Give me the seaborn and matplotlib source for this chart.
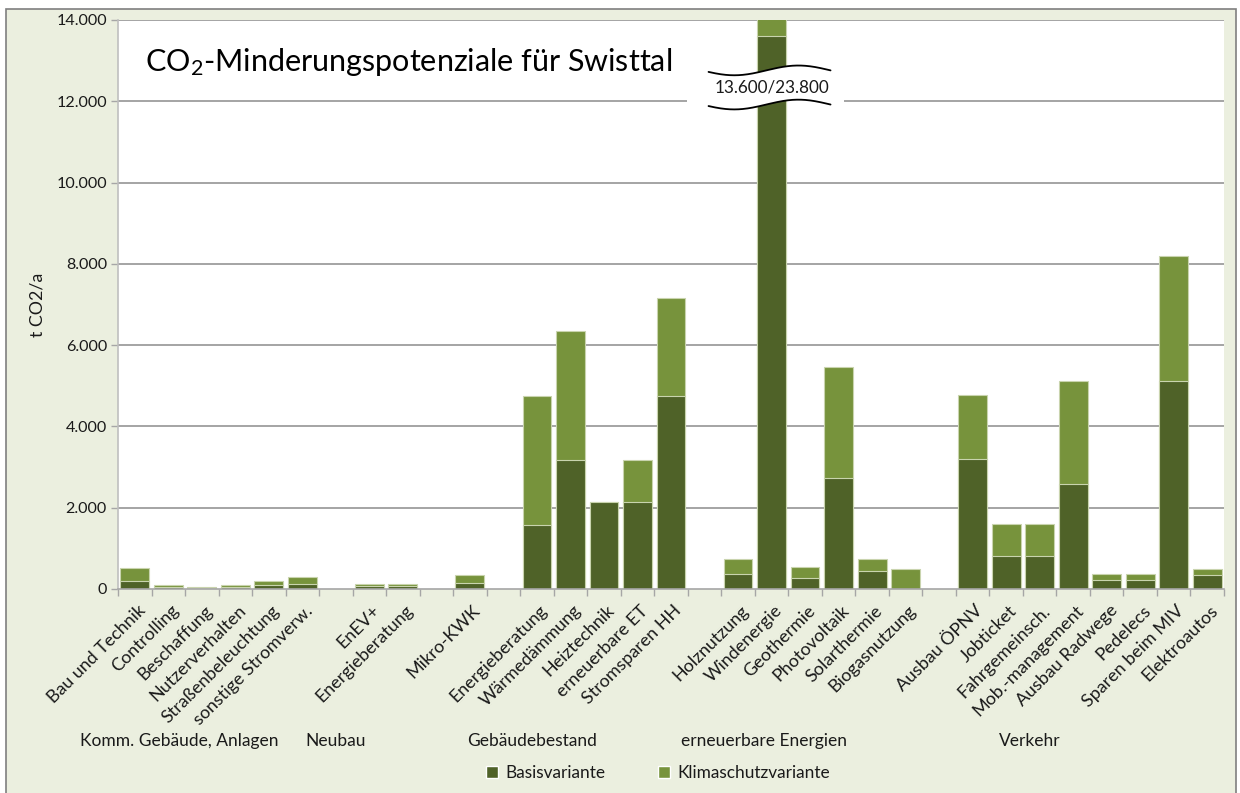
import numpy as np
import pandas as pd
import matplotlib
matplotlib.use("Agg")
import matplotlib.pyplot as plt
import matplotlib.transforms as mtransforms
from matplotlib.patches import Rectangle, Patch, Polygon
import seaborn as sns

# ---- data ---------------------------------------------------------------
measures = [
    "Bau und Technik", "Controlling", "Beschaffung", "Nutzerverhalten",
    "Straßenbeleuchtung", "sonstige Stromverw.", None,
    "EnEV+", "Energieberatung", None,
    "Mikro-KWK", None,
    "Energieberatung", "Wärmedämmung", "Heiztechnik", "erneuerbare ET",
    "Stromsparen HH", None,
    "Holznutzung", "Windenergie", "Geothermie", "Photovoltaik",
    "Solarthermie", "Biogasnutzung", None,
    "Ausbau ÖPNV", "Jobticket", "Fahrgemeinsch.", "Mob.-management",
    "Ausbau Radwege", "Pedelecs", "Sparen beim MIV", "Elektroautos",
]
basis = [
    200, 50, 30, 60, 100, 130, None,
    80, 80, None,
    155, None,
    1580, 3180, 2130, 2130, 4760, None,
    370, 13600, 270, 2730, 450, 0, None,
    3200, 800, 800, 2580, 230, 230, 5130, 340,
]
klimaschutz = [
    510, 100, 40, 90, 200, 290, None,
    115, 115, None,
    335, None,
    4760, 6350, 2130, 3180, 7150, None,
    740, 23800, 530, 5470, 740, 490, None,
    4780, 1600, 1600, 5130, 370, 370, 8200, 490,
]
groups = ["Komm. Gebäude, Anlagen", "Neubau", "Gebäudebestand",
          "erneuerbare Energien", "Verkehr"]
group_x = [1.32, 5.98, 11.86, 18.78, 26.7]
y_max = 14000
y_ticks = [0, 2000, 4000, 6000, 8000, 10000, 12000, 14000]
break_label = "13.600/23.800"

# ---- style --------------------------------------------------------------
sns.set_theme(style="white")
plt.rcParams["font.family"] = ["Lato", "DejaVu Sans"]
plt.rcParams["mathtext.fontset"] = "custom"
plt.rcParams["mathtext.rm"] = "Lato"
plt.rcParams["mathtext.it"] = "Lato:italic"

dark = "#4F6228"
light = "#77933C"
panel = "#EBEFDF"
grid = "#8C8C8C"
txt = "#1A1A1A"

fig = plt.figure(figsize=(12.4, 7.93), dpi=100, facecolor="white")
fig.patches.append(Rectangle((6 / 1240, -0.01), 1230 / 1240, 1 - 9 / 793 + 0.01,
                             transform=fig.transFigure, facecolor=panel,
                             edgecolor="#7F7F7F", linewidth=1.2, zorder=-5))
ax = fig.add_axes([118 / 1240, 1 - 589 / 793, 1106 / 1240, 569 / 793])
ax.set_facecolor("white")

pos = [i for i, m in enumerate(measures) if m is not None]
df = pd.DataFrame({
    "pos": pos,
    "basis": [basis[i] for i in pos],
    "klima": [klimaschutz[i] for i in pos],
})

common = dict(native_scale=True, width=0.86, linewidth=0.8, zorder=3, ax=ax)
sns.barplot(data=df, x="pos", y="klima", color=light, saturation=1,
            edgecolor="#C9D4AE", **common)
sns.barplot(data=df, x="pos", y="basis", color=dark, saturation=1,
            edgecolor="#C9D4AE", **common)

ax.set_xlim(-0.5, len(measures) - 0.5)
ax.set_ylim(0, y_max)

# y axis
ax.set_yticks(y_ticks)
ax.set_yticklabels([f"{v:,.0f}".replace(",", ".") for v in y_ticks],
                   fontsize=11.6, color=txt)
for v in y_ticks[1:]:
    ax.axhline(v, color=grid, linewidth=1.1, zorder=1)
ax.set_ylabel("t CO2/a", fontsize=12.8, labelpad=8, color=txt)
ax.tick_params(axis="y", length=5, color="#A6A6A6", width=1, pad=3, left=True)

# x axis: tick marks on slot borders, rotated labels under the bars
ax.set_xticks([])
ax.set_xticks(np.arange(-0.5, len(measures)), minor=True)
ax.tick_params(axis="x", which="minor", length=5, color="#A6A6A6", width=1,
               bottom=True)
ax.set_xlabel("")
lab_tr = ax.get_xaxis_transform() + mtransforms.ScaledTranslation(
    8 / 100, -19 / 100, fig.dpi_scale_trans)
for i in pos:
    ax.text(i, 0, measures[i], transform=lab_tr, rotation=45,
            rotation_mode="anchor", ha="right", va="center", fontsize=12.9,
            color=txt)

for side in ["top", "right"]:
    ax.spines[side].set_visible(False)
ax.spines["left"].set_color("#BFBFBF")
ax.spines["left"].set_linewidth(1.2)
ax.spines["bottom"].set_color("#A6A6A6")
ax.spines["bottom"].set_linewidth(1.2)
ax.spines["left"].set_zorder(4)
ax.spines["bottom"].set_zorder(4)

# axis break on the Windenergie column
wx = measures.index("Windenergie")
ax.add_patch(Rectangle((wx - 2.51, 11780), 4.66, 1150, facecolor="white",
                       edgecolor="none", zorder=2))
t = np.linspace(0, 1, 200)
xs = wx - 1.88 + 3.64 * t
wave = -np.sin(2 * np.pi * (t * 0.95 + 0.05)) * 120
top = 12760 + wave
bot = 11920 + wave
ax.add_patch(Polygon(np.column_stack([np.r_[xs, xs[::-1]], np.r_[top, bot[::-1]]]),
                     closed=True, facecolor="white", edgecolor="none", zorder=5))
ax.plot(xs, top, color="black", linewidth=1.3, zorder=6)
ax.plot(xs, bot, color="black", linewidth=1.3, zorder=6)
ax.text(wx, 12330, break_label, ha="center", va="center", fontsize=12.3,
        color=txt, zorder=7)

# title
ax.text(0.024, 0.926, "CO$_{2}$-Minderungspotenziale für Swisttal",
        transform=ax.transAxes, fontsize=22, ha="left", va="center",
        color="black", zorder=7)

# group captions under the labels
cap_tr = mtransforms.blended_transform_factory(ax.transData, fig.transFigure)
for g, gx in zip(groups, group_x):
    ax.text(gx, 1 - 741 / 793, g, transform=cap_tr, ha="center",
            va="center", fontsize=12.5, color=txt)

# legend
handles = [Patch(facecolor=dark, label="Basisvariante"),
           Patch(facecolor=light, label="Klimaschutzvariante")]
leg = fig.legend(handles=handles, loc="center",
                 bbox_to_anchor=(658 / 1240, 1 - 773 / 793), ncol=2,
                 frameon=False, fontsize=12.4, handlelength=0.7,
                 handleheight=0.7, handletextpad=0.4, columnspacing=3.1)
for tx in leg.get_texts():
    tx.set_color(txt)

fig.savefig("out.png", dpi=100, facecolor=fig.get_facecolor())
